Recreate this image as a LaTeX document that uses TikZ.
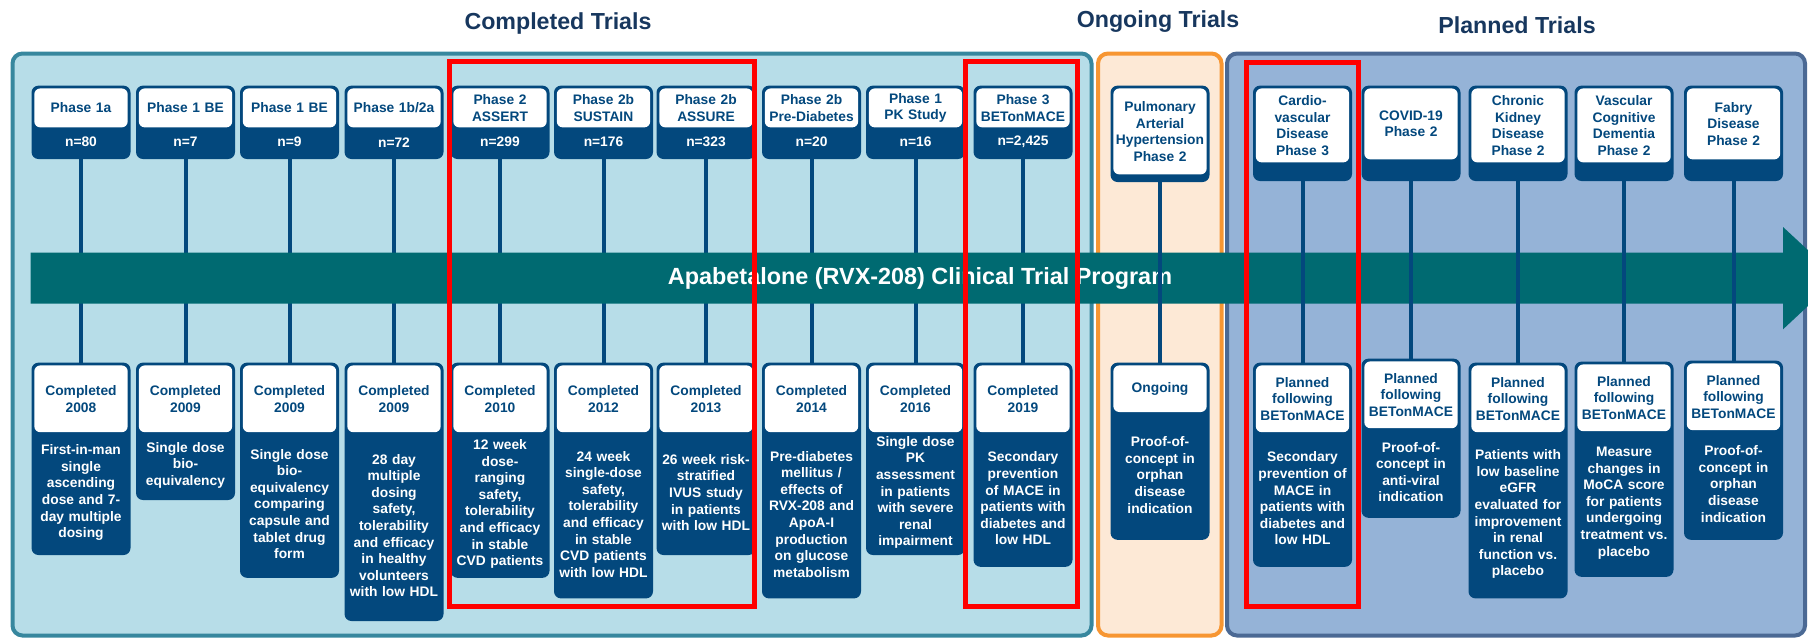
\documentclass[tikz,border=0pt]{standalone}
\usepackage{fontspec}
\setmainfont{Liberation Sans}
\usetikzlibrary{positioning, fit, backgrounds}

\definecolor{trialnavy}{RGB}{3,72,125}
\definecolor{bandteal}{RGB}{0,106,113}
\definecolor{titleblue}{RGB}{23,55,94}
\definecolor{donefill}{RGB}{183,221,232}
\definecolor{doneline}{RGB}{55,135,158}
\definecolor{ongofill}{RGB}{253,233,214}
\definecolor{ongoline}{RGB}{247,150,50}
\definecolor{planfill}{RGB}{149,179,215}
\definecolor{planline}{RGB}{75,105,148}

\begin{document}
\begin{tikzpicture}[
    x=0.5pt, y=-0.5pt,
    font=\fontsize{6.9}{8.3}\selectfont\bfseries,
    panel/.style={line width=2pt, rounded corners=5pt},
    title/.style={font=\fontsize{11.6}{14}\selectfont\bfseries, text=titleblue},
    head/.style={fill=white, rounded corners=3pt, text=trialnavy, text width=46.7pt, align=center, inner sep=0pt, anchor=north},
    phase/.style={head, minimum height=19.5pt},
    status/.style={head, minimum height=33.4pt},
    info/.style={text=white, text width=46.7pt, align=center, inner sep=0pt},
    cardbg/.style={fill=trialnavy, rounded corners=3.5pt, inner sep=1.2pt},
    link/.style={draw=trialnavy, line width=2pt},
    highlight/.style={draw=red, line width=2.5pt}
  ]
    \useasboundingbox (0,0) rectangle (1808,638);
    \clip (0,0) rectangle (1808,638);

    % three phase panels
    \begin{scope}[on background layer]
      \draw[panel, fill=donefill, draw=doneline] (12.5,53.5) rectangle (1091.5,635.5);
      \draw[panel, fill=ongofill, draw=ongoline] (1098,53.5) rectangle (1221.5,635.5);
      \draw[panel, fill=planfill, draw=planline] (1227,53.5) rectangle (1805,635.5);
    \end{scope}
    \node[title] (tdone) at (558,23) {Completed Trials};
    \node[title] (tongo) at (1158,22) {Ongoing Trials};
    \node[title] (tplan) at (1517,25) {Planned Trials};

    % upper cards: phase and size
    \node[phase] (ph1) at (81,88) {Phase 1a};
    \node[info, below=0pt of ph1, minimum height=14pt] (cnt1) {n=80};
    \node[phase] (ph2) at (185.5,88) {Phase 1 BE};
    \node[info, below=0pt of ph2, minimum height=14pt] (cnt2) {n=7};
    \node[phase] (ph3) at (289.5,88) {Phase 1 BE};
    \node[info, below=0pt of ph3, minimum height=14pt] (cnt3) {n=9};
    \node[phase] (ph4) at (394,88) {Phase 1b/2a};
    \node[info, below=0pt of ph4, minimum height=14pt] (cnt4) {n=72};
    \node[phase] (ph5) at (500,88) {Phase 2\\ASSERT};
    \node[info, below=0pt of ph5, minimum height=14pt] (cnt5) {n=299};
    \node[phase] (ph6) at (603.5,88) {Phase 2b\\SUSTAIN};
    \node[info, below=0pt of ph6, minimum height=14pt] (cnt6) {n=176};
    \node[phase] (ph7) at (706,88) {Phase 2b\\ASSURE};
    \node[info, below=0pt of ph7, minimum height=14pt] (cnt7) {n=323};
    \node[phase] (ph8) at (811.5,88) {Phase 2b\\Pre-Diabetes};
    \node[info, below=0pt of ph8, minimum height=14pt] (cnt8) {n=20};
    \node[phase] (ph9) at (915.5,88) {Phase 1\\PK Study};
    \node[info, below=0pt of ph9, minimum height=14pt] (cnt9) {n=16};
    \node[phase] (ph10) at (1023,88) {Phase 3\\BETonMACE};
    \node[info, below=0pt of ph10, minimum height=14pt] (cnt10) {n=2,425};
    \node[phase, minimum height=43pt] (ph11) at (1160,88) {Pulmonary\\Arterial\\Hypertension\\Phase 2};
    \node[info, below=0pt of ph11, minimum height=2pt] (cnt11) {};
    \node[phase, minimum height=37pt] (ph12) at (1302.5,88) {Cardio-\\vascular\\Disease\\Phase 3};
    \node[info, below=0pt of ph12, minimum height=7.5pt] (cnt12) {};
    \node[phase, minimum height=35.5pt] (ph13) at (1411,88) {COVID-19\\Phase 2};
    \node[info, below=0pt of ph13, minimum height=9pt] (cnt13) {};
    \node[phase, minimum height=37pt] (ph14) at (1518,88) {Chronic\\Kidney\\Disease\\Phase 2};
    \node[info, below=0pt of ph14, minimum height=7.5pt] (cnt14) {};
    \node[phase, minimum height=37pt] (ph15) at (1624,88) {Vascular\\Cognitive\\Dementia\\Phase 2};
    \node[info, below=0pt of ph15, minimum height=7.5pt] (cnt15) {};
    \node[phase, minimum height=35.5pt] (ph16) at (1733.5,88) {Fabry\\Disease\\Phase 2};
    \node[info, below=0pt of ph16, minimum height=9pt] (cnt16) {};

    % lower cards: status and study design
    \node[status] (st1) at (81,365) {Completed\\2008};
    \node[info, below=0pt of st1, minimum height=59.6pt] (ds1) {First-in-man\\single\\ascending\\dose and 7-\\day multiple\\dosing};
    \node[status] (st2) at (185.5,365) {Completed\\2009};
    \node[info, below=0pt of st2, minimum height=32.1pt] (ds2) {Single dose\\bio-\\equivalency};
    \node[status] (st3) at (289.5,365) {Completed\\2009};
    \node[info, below=0pt of st3, minimum height=71pt] (ds3) {Single dose\\bio-\\equivalency\\comparing\\capsule and\\tablet drug\\form};
    \node[status] (st4) at (394,365) {Completed\\2009};
    \node[info, below=0pt of st4, minimum height=92.6pt] (ds4) {28 day\\multiple\\dosing\\safety,\\tolerability\\and efficacy\\in healthy\\volunteers\\with low HDL};
    \node[status] (st5) at (500,365) {Completed\\2010};
    \node[info, below=0pt of st5, minimum height=71pt] (ds5) {12 week\\dose-\\ranging\\safety,\\tolerability\\and efficacy\\in stable\\CVD patients};
    \node[status] (st6) at (603.5,365) {Completed\\2012};
    \node[info, below=0pt of st6, minimum height=81.3pt] (ds6) {24 week\\single-dose\\safety,\\tolerability\\and efficacy\\in stable\\CVD patients\\with low HDL};
    \node[status] (st7) at (706,365) {Completed\\2013};
    \node[info, below=0pt of st7, minimum height=59.6pt] (ds7) {26 week risk-\\stratified\\IVUS study\\in patients\\with low HDL};
    \node[status] (st8) at (811.5,365) {Completed\\2014};
    \node[info, below=0pt of st8, minimum height=81.3pt] (ds8) {Pre-diabetes\\mellitus /\\effects of\\RVX-208 and\\ApoA-I\\production\\on glucose\\metabolism};
    \node[status] (st9) at (915.5,365) {Completed\\2016};
    \node[info, below=0pt of st9, minimum height=59.6pt] (ds9) {Single dose\\PK\\assessment\\in patients\\with severe\\renal\\impairment};
    \node[status] (st10) at (1023,365) {Completed\\2019};
    \node[info, below=0pt of st10, minimum height=65.5pt] (ds10) {Secondary\\prevention\\of MACE in\\patients with\\diabetes and\\low HDL};
    \node[status, minimum height=23.3pt] (st11) at (1160,365) {Ongoing};
    \node[info, below=0pt of st11, minimum height=62.1pt] (ds11) {Proof-of-\\concept in\\orphan\\disease\\indication};
    \node[status] (st12) at (1302.5,365) {Planned\\following\\BETonMACE};
    \node[info, below=0pt of st12, minimum height=65.5pt] (ds12) {Secondary\\prevention of\\MACE in\\patients with\\diabetes and\\low HDL};
    \node[status] (st13) at (1411,361) {Planned\\following\\BETonMACE};
    \node[info, below=0pt of st13, minimum height=43pt] (ds13) {Proof-of-\\concept in\\anti-viral\\indication};
    \node[status] (st14) at (1518,365) {Planned\\following\\BETonMACE};
    \node[info, below=0pt of st14, minimum height=81.3pt] (ds14) {Patients with\\low baseline\\eGFR\\evaluated for\\improvement\\in renal\\function vs.\\placebo};
    \node[status] (st15) at (1624,364) {Planned\\following\\BETonMACE};
    \node[info, below=0pt of st15, minimum height=71pt] (ds15) {Measure\\changes in\\MoCA score\\for patients\\undergoing\\treatment vs.\\placebo};
    \node[status] (st16) at (1733.5,363) {Planned\\following\\BETonMACE};
    \node[info, below=0pt of st16, minimum height=53pt] (ds16) {Proof-of-\\concept in\\orphan\\disease\\indication};

    % navy card bodies behind the white heads
    \begin{scope}[on background layer]
      \foreach \i in {1,...,16} {
        \node[cardbg, fit=(ph\i)(cnt\i)] (bgt\i) {};
        \node[cardbg, fit=(st\i)(ds\i)] (bgb\i) {};
      }
    \end{scope}

    % completed trials sit under the program arrow
    \foreach \i in {1,...,10}
      \draw[link] (cnt\i) -- (st\i);
    \fill[bandteal] (30.7,252.7) -- (1783,252.7) -- (1783,227) -- (1838,278)
      -- (1783,329.3) -- (1783,303.5) -- (30.7,303.5) -- cycle;
    \node[text=white, font=\fontsize{11.7}{14}\selectfont\bfseries] (prog) at (920,278)
      {Apabetalone (RVX-208) Clinical Trial Program};
    \foreach \i in {11,...,16}
      \draw[link] (cnt\i) -- (st\i);

    % highlighted studies
    \draw[highlight] (449.7,61.7) rectangle (754,606.7);
    \draw[highlight] (965.5,61.7) rectangle (1077.4,606.7);
    \draw[highlight] (1246,62) rectangle (1358.2,606.7);
  \end{tikzpicture}
\end{document}
